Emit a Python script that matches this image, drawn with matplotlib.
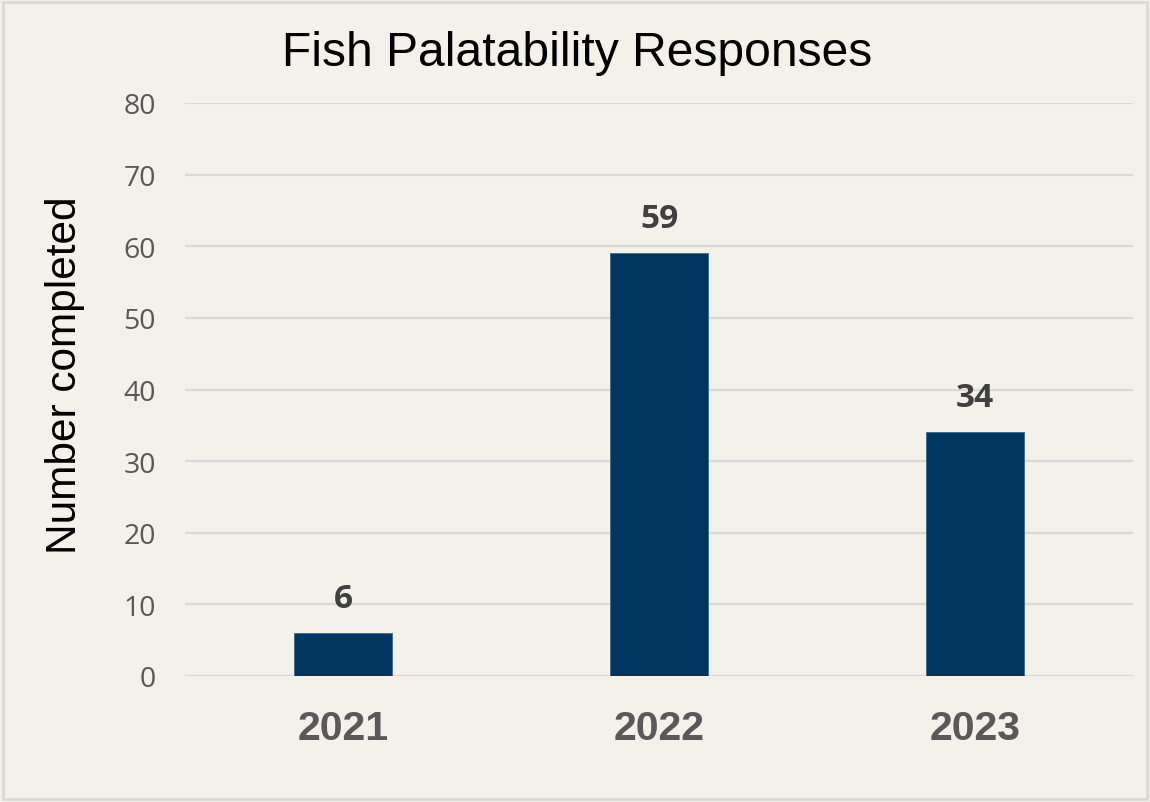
import matplotlib
matplotlib.use("Agg")
import matplotlib.pyplot as plt
from matplotlib.patches import Rectangle

years = ["2021", "2022", "2023"]
responses = [6, 59, 34]
y_ticks = [0, 10, 20, 30, 40, 50, 60, 70, 80]

bg = "#F4F0EA"
bar_color = "#003660"
grid_color = "#D9D9D9"
tick_color = "#595959"
label_color = "#404040"

W, H = 1150, 803
fig = plt.figure(figsize=(W / 100, H / 100), dpi=100, facecolor=bg)

# thin frame round the whole figure
fig.patches.append(Rectangle((3 / W, 3 / H), (W - 6) / W, (H - 6) / H,
                             transform=fig.transFigure, fill=False,
                             edgecolor="#D9D9D9", linewidth=2))

left, right = 185 / W, 1133 / W
bottom, top = 1 - 677 / H, 1 - 104 / H
ax = fig.add_axes([left, bottom, right - left, top - bottom])
ax.set_facecolor(bg)

x = range(len(years))
bars = ax.bar(x, responses, width=0.313, color=bar_color,
              edgecolor="#3a6a94", linewidth=0.6, zorder=3)

ax.set_xlim(-0.5, len(years) - 0.5)
ax.set_ylim(0, 80)
ax.set_yticks(y_ticks)
ax.set_yticklabels([str(t) for t in y_ticks], fontfamily="Open Sans",
                   fontsize=20.5, color=tick_color)
ax.set_xticks(list(x))
ax.set_xticklabels(years, fontfamily="Liberation Sans", fontweight="bold",
                   fontsize=29.5, color=tick_color)
ax.tick_params(axis="both", length=0)
ax.tick_params(axis="y", pad=21)
ax.tick_params(axis="x", pad=24)

ax.yaxis.grid(True, color=grid_color, linewidth=1.6, zorder=0)
ax.set_axisbelow(True)
for s in ax.spines.values():
    s.set_visible(False)

for xi, v in zip(x, responses):
    ax.annotate(str(v), (xi, v), xytext=(0, 25), textcoords="offset points",
                ha="center", va="center", fontfamily="Open Sans",
                fontweight="bold", fontsize=24, color=label_color)

ax.set_ylabel("Number completed", fontfamily="Liberation Sans",
              fontsize=30.5, color="black")
ax.yaxis.set_label_coords(-0.105, (677 - 375) / 573)

fig.text(577 / W, 1 - 53 / H, "Fish Palatability Responses",
         fontfamily="Liberation Sans", fontsize=34.6, color="black",
         ha="center", va="center")

fig.savefig("out.png", dpi=100, facecolor=bg)
